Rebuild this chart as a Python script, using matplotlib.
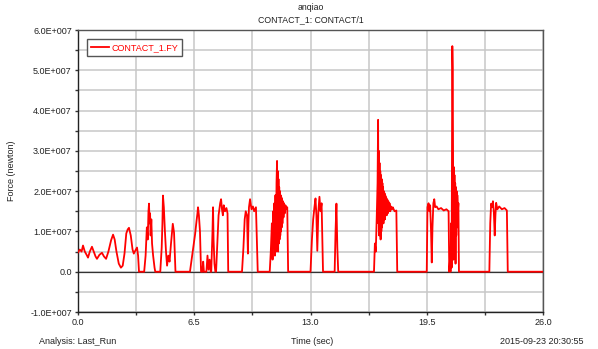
import numpy as np
import matplotlib
matplotlib.use('Agg')
import matplotlib.pyplot as plt
from matplotlib.ticker import MultipleLocator, FuncFormatter

# Data: time (sec) and force (in 1E+007 newton)
t_pts = [0.0, 0.1, 0.2, 0.28, 0.38, 0.48, 0.56, 0.66, 0.78, 0.88, 0.98, 1.06, 1.2, 1.34, 1.45,
         1.57, 1.7, 1.85, 1.96, 2.05, 2.15, 2.28, 2.4, 2.5, 2.6, 2.7, 2.78, 2.85, 2.95, 3.05,
         3.12, 3.2, 3.3, 3.36, 3.41,
         3.7, 3.78, 3.85, 3.9, 3.94, 3.97, 4.0, 4.03, 4.06, 4.1, 4.14, 4.2, 4.28, 4.32,
         4.6, 4.68, 4.72, 4.75, 4.8, 4.86, 4.92, 4.98, 5.05, 5.12, 5.2, 5.3, 5.37, 5.45,
         6.26, 6.4, 6.55, 6.63, 6.68, 6.71, 6.76, 6.82, 6.88,
         6.95, 7.0, 7.04, 7.18, 7.24, 7.3, 7.36, 7.42,
         7.45, 7.52, 7.55, 7.58, 7.63, 7.68,
         7.72, 7.8, 7.86, 7.95, 8.0, 8.05, 8.1, 8.15, 8.22, 8.3, 8.36, 8.4,
         9.17, 9.25, 9.32, 9.38, 9.45, 9.5, 9.53, 9.56, 9.62, 9.7, 9.78, 9.85, 9.95, 10.05,
         10.72, 10.78, 10.84, 10.88, 10.92, 10.95, 10.98, 11.01, 11.04, 11.07, 11.1, 11.13,
         11.15, 11.17, 11.19, 11.21, 11.23, 11.25, 11.27, 11.29, 11.31, 11.33, 11.35, 11.37,
         11.39, 11.41, 11.43, 11.46, 11.49, 11.52, 11.56, 11.6, 11.64, 11.7, 11.75,
         13.0, 13.08, 13.15, 13.22, 13.28, 13.33, 13.38, 13.44, 13.5, 13.56, 13.62, 13.7,
         14.35, 14.4, 14.45, 14.5, 14.55,
         16.55, 16.6, 16.65, 16.7, 16.75, 16.78, 16.8, 16.82, 16.84, 16.86, 16.88, 16.9, 16.92,
         16.94, 16.96, 16.98, 17.0, 17.02, 17.04, 17.06, 17.08, 17.1, 17.12, 17.14, 17.16,
         17.18, 17.2, 17.23, 17.26, 17.29, 17.32, 17.35, 17.38, 17.42, 17.46, 17.5, 17.55,
         17.6, 17.7, 17.8, 17.85,
         19.5, 19.54, 19.6, 19.65, 19.69, 19.74, 19.78, 19.82, 19.87, 19.92, 19.97, 20.05,
         20.15, 20.3, 20.45, 20.6, 20.72, 20.76,
         20.8, 20.83, 20.86, 20.89, 20.92, 20.93, 20.95, 20.97, 20.99, 21.01, 21.03, 21.05,
         21.07, 21.09, 21.11, 21.13, 21.15, 21.17, 21.19, 21.21, 21.24, 21.27, 21.3,
         23.0, 23.05, 23.1, 23.16, 23.2, 23.25, 23.3, 23.34, 23.38, 23.45, 23.55, 23.7, 23.85,
         23.98, 24.03, 26.0]
f_pts = [0.48, 0.55, 0.5, 0.65, 0.5, 0.42, 0.35, 0.5, 0.62, 0.5, 0.38, 0.32, 0.42, 0.47, 0.38,
         0.32, 0.5, 0.78, 0.92, 0.8, 0.5, 0.2, 0.1, 0.15, 0.45, 0.95, 1.05, 1.09, 0.9, 0.55,
         0.45, 0.52, 0.6, 0.4, 0.0,
         0.0, 0.4, 1.1, 0.8, 1.5, 1.69, 1.2, 1.45, 0.9, 1.3, 0.7, 0.4, 0.1, 0.0,
         0.0, 0.6, 1.2, 1.89, 1.6, 1.0, 0.5, 0.15, 0.4, 0.25, 0.7, 1.19, 0.97, 0.0,
         0.0, 0.45, 0.94, 1.27, 1.45, 1.6, 1.4, 1.0, 0.0,
         0.0, 0.25, 0.0, 0.0, 0.4, 0.05, 0.3, 0.0,
         0.0, 1.0, 1.6, 0.8, 0.2, 0.0,
         0.0, 0.8, 1.4, 1.7, 1.8, 1.55, 1.4, 1.65, 1.5, 1.58, 1.45, 0.0,
         0.0, 0.6, 1.3, 1.5, 1.4, 0.45, 1.2, 1.6, 1.8, 1.55, 1.62, 1.5, 1.6, 0.0,
         0.0, 0.5, 1.2, 0.3, 1.5, 0.6, 1.7, 0.4, 1.9, 0.5, 2.2, 2.75,
         0.6, 2.5, 0.5, 2.3, 0.7, 2.1, 0.8, 2.0, 0.9, 1.9, 1.0, 1.85,
         1.1, 1.8, 1.2, 1.75, 1.35, 1.7, 1.45, 1.65, 1.55, 1.6, 0.0,
         0.0, 0.8, 1.3, 1.6, 1.82, 1.4, 0.52, 1.5, 1.86, 1.5, 1.7, 0.0,
         0.0, 1.0, 1.69, 0.6, 0.0,
         0.0, 0.7, 0.5, 1.3, 2.2, 3.77, 1.2, 3.0, 0.9, 2.7, 1.0, 2.5, 0.8,
         2.4, 1.0, 2.3, 1.1, 2.2, 1.2, 2.1, 1.2, 2.0, 1.3, 1.95, 1.3,
         1.9, 1.4, 1.85, 1.4, 1.8, 1.45, 1.75, 1.5, 1.7, 1.5, 1.62, 1.55,
         1.6, 1.5, 1.52, 0.0,
         0.0, 1.6, 1.7, 1.5, 1.65, 1.0, 0.23, 1.1, 1.7, 1.8, 1.6, 1.62,
         1.55, 1.58, 1.52, 1.55, 1.5, 0.0,
         0.3, 0.0, 1.2, 0.1, 4.0, 5.6, 5.06, 3.1, 0.3, 2.6, 0.5, 2.4,
         0.7, 2.2, 0.2, 2.1, 0.9, 2.0, 1.1, 1.9, 1.5, 1.7, 0.0,
         0.0, 1.2, 1.69, 1.6, 1.75, 1.5, 0.9, 1.4, 1.71, 1.55, 1.62, 1.55, 1.58,
         1.52, 0.0, 0.0]

x_ticks = [0.0, 6.5, 13.0, 19.5, 26.0]
y_ticks = [-1e7, 0, 1e7, 2e7, 3e7, 4e7, 5e7, 6e7]

t = np.array(t_pts)
force = np.array(f_pts) * 1e7

plt.rcParams['font.family'] = ['Liberation Sans', 'DejaVu Sans']

fig = plt.figure(figsize=(5.98, 3.49), dpi=100)
ax = fig.add_axes([78/598, 1 - 312/349, 465/598, 282/349])

ax.axhline(0, color='#333333', lw=0.9, zorder=2)
ax.plot(t, force, color='#ff0000', lw=1.3, label='CONTACT_1.FY', zorder=3)

ax.set_xlim(0, 26)
ax.set_ylim(-1e7, 6e7)
ax.set_xticks(x_ticks)
ax.xaxis.set_minor_locator(MultipleLocator(3.25))
ax.set_yticks(y_ticks)
ax.yaxis.set_minor_locator(MultipleLocator(0.5e7))
ax.xaxis.set_major_formatter(FuncFormatter(lambda v, p: '%.1f' % v))


def fmt_y(v, p):
    if v == 0:
        return '0.0'
    e = int(np.floor(np.log10(abs(v))))
    return '%.1fE+%03d' % (v / 10**e, e)


ax.yaxis.set_major_formatter(FuncFormatter(fmt_y))
ax.grid(True, which='both', color='#c8c8c8', lw=1.1, zorder=0)
ax.set_axisbelow(True)
ax.tick_params(which='both', direction='out', length=2.5, width=1, color='#333333',
               labelsize=6.5, pad=2, labelcolor='#222222')
for s in ax.spines.values():
    s.set_color('#555555')
    s.set_linewidth(1.0)
ax.spines['left'].set_color('#222222')
ax.spines['bottom'].set_color('#222222')

ax.set_ylabel('Force (newton)', fontsize=6.5, labelpad=10, color='#222222')

leg = ax.legend(loc='upper left', bbox_to_anchor=(0.019, 0.968), borderaxespad=0,
                fontsize=6.5, fancybox=False, handlelength=2.0, handletextpad=0.3,
                borderpad=0.45, framealpha=1)
leg.get_frame().set_edgecolor('#555555')
leg.get_frame().set_linewidth(1.0)
for txt in leg.get_texts():
    txt.set_color('#ff0000')

fig.text(310.5/598, 1 - 8/349, 'anqiao', ha='center', va='center', fontsize=6.3, color='#222222')
fig.text(310.5/598, 1 - 20/349, 'CONTACT_1: CONTACT/1', ha='center', va='center', fontsize=6.3,
         color='#222222')
fig.text(39/598, 1 - 342/349, 'Analysis: Last_Run', ha='left', va='center', fontsize=6.5,
         color='#222222')
fig.text(312/598, 1 - 342/349, 'Time (sec)', ha='center', va='center', fontsize=6.5,
         color='#222222')
fig.text(583/598, 1 - 342/349, '2015-09-23 20:30:55', ha='right', va='center', fontsize=6.5,
         color='#222222')

fig.savefig('out.png', dpi=100)
